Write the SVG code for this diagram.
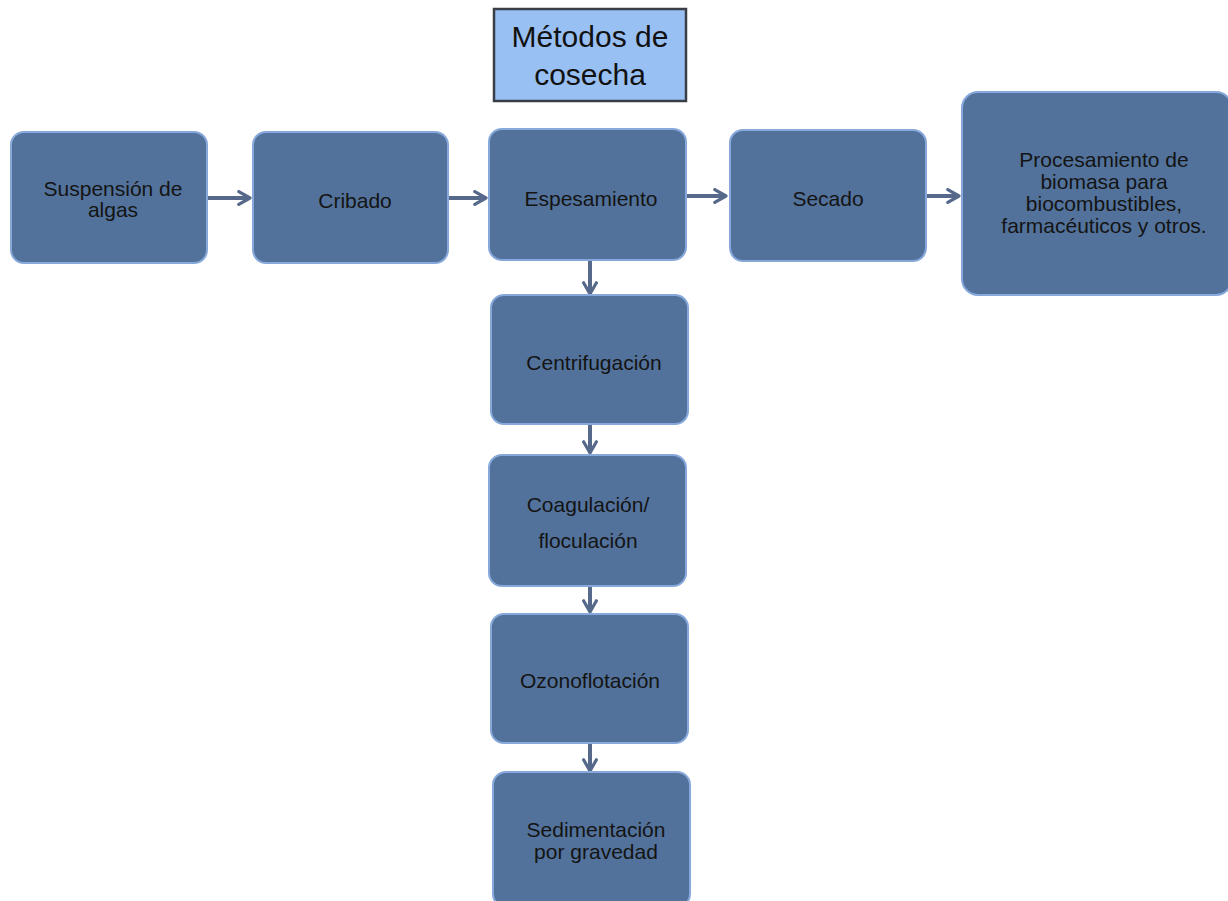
<svg xmlns="http://www.w3.org/2000/svg" width="1228" height="901" viewBox="0 0 1228 901">
<defs>
<marker id="ah" viewBox="0 0 10 10" refX="8" refY="5" markerWidth="4" markerHeight="4" orient="auto" markerUnits="strokeWidth">
<path d="M1,1 L8,5 L1,9" fill="none" stroke="#56698a" stroke-width="2" stroke-linecap="round" stroke-linejoin="round"/>
</marker>
</defs>
<style>
.box{fill:#52729b;stroke:#86a8db;stroke-width:2}
.t{font-family:"Liberation Sans",Arial,sans-serif;font-size:21px;fill:#141414;text-anchor:middle}
.title{font-family:"Liberation Sans",Arial,sans-serif;font-size:30px;fill:#111;text-anchor:middle}
.c{stroke:#56698a;stroke-width:4;fill:none;marker-end:url(#ah)}
</style>
<rect width="1228" height="901" fill="#ffffff"/>
<g id="title">
<rect x="494" y="9" width="192" height="92" fill="#99c0f2" stroke="#3a3f47" stroke-width="2.5"/>
<text class="title" x="590" y="47">Métodos de</text>
<text class="title" x="590" y="85">cosecha</text>
</g>
<g id="connectors">
<line class="c" x1="208" y1="198" x2="250" y2="198"/>
<line class="c" x1="449" y1="198" x2="486" y2="198"/>
<line class="c" x1="687" y1="196" x2="726" y2="196"/>
<line class="c" x1="927" y1="196" x2="959" y2="196"/>
<line class="c" x1="590" y1="261" x2="590" y2="294"/>
<line class="c" x1="590" y1="425" x2="590" y2="453"/>
<line class="c" x1="590" y1="587" x2="590" y2="612"/>
<line class="c" x1="590" y1="744" x2="590" y2="771"/>
</g>
<g id="suspension">
<rect class="box" x="11" y="132" width="196" height="131" rx="13"/>
<text class="t" x="113" y="196">Suspensión de</text>
<text class="t" x="113" y="217">algas</text>
</g>
<g id="cribado">
<rect class="box" x="253" y="132" width="195" height="131" rx="13"/>
<text class="t" x="355" y="208">Cribado</text>
</g>
<g id="espesamiento">
<rect class="box" x="489" y="129" width="197" height="131" rx="13"/>
<text class="t" x="591" y="206">Espesamiento</text>
</g>
<g id="secado">
<rect class="box" x="730" y="130" width="196" height="131" rx="13"/>
<text class="t" x="828" y="206">Secado</text>
</g>
<g id="procesamiento">
<rect class="box" x="962" y="92" width="270" height="203" rx="16"/>
<text class="t" x="1104" y="167">Procesamiento de</text>
<text class="t" x="1104" y="189">biomasa para</text>
<text class="t" x="1104" y="211">biocombustibles,</text>
<text class="t" x="1104" y="233">farmacéuticos y otros.</text>
</g>
<g id="centrifugacion">
<rect class="box" x="491" y="295" width="197" height="129" rx="13"/>
<text class="t" x="594" y="370">Centrifugación</text>
</g>
<g id="coagulacion">
<rect class="box" x="489" y="455" width="197" height="131" rx="13"/>
<text class="t" x="588" y="512">Coagulación/</text>
<text class="t" x="588" y="548">floculación</text>
</g>
<g id="ozonoflotacion">
<rect class="box" x="491" y="614" width="197" height="129" rx="13"/>
<text class="t" x="590" y="688">Ozonoflotación</text>
</g>
<g id="sedimentacion">
<rect class="box" x="493" y="772" width="197" height="135" rx="13"/>
<text class="t" x="596" y="837">Sedimentación</text>
<text class="t" x="596" y="859">por gravedad</text>
</g>
</svg>
